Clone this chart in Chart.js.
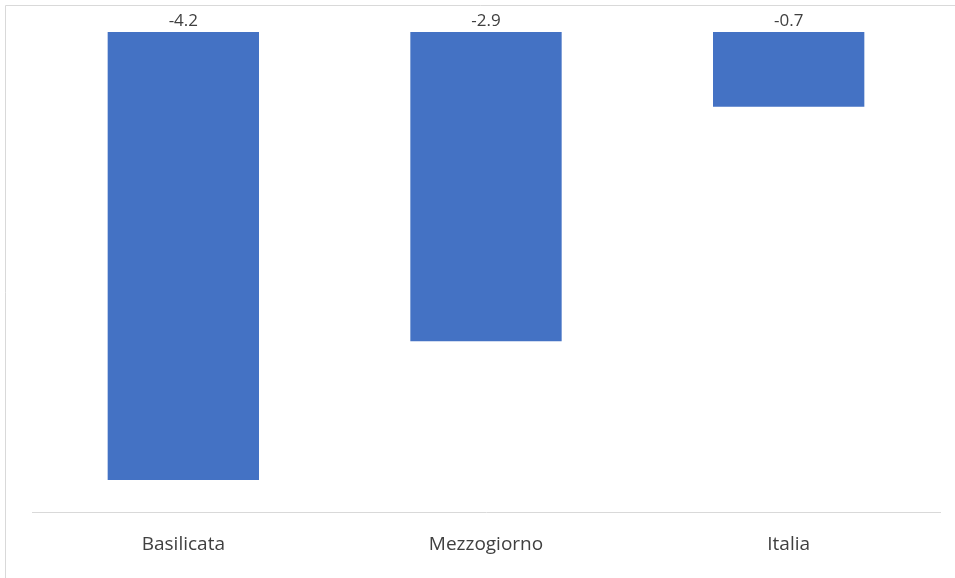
<!DOCTYPE html>
<html>
<head>
<meta charset="utf-8">
<script src="https://cdn.jsdelivr.net/npm/chart.js@4/dist/chart.umd.min.js"></script>
<style>
  html, body { margin: 0; padding: 0; background: #fff; }
  #wrap { position: relative; width: 955px; height: 578px; }
</style>
</head>
<body>
<div id="wrap"><canvas id="barChart"></canvas></div>
<script>
  const regions = ['Basilicata', 'Mezzogiorno', 'Italia'];
  const variation = [-4.2, -2.9, -0.7];

  // thin frame around the whole chart
  const framePlugin = {
    id: 'frame',
    beforeDraw(chart) {
      const { ctx } = chart;
      ctx.save();
      ctx.strokeStyle = '#d9d9d9';
      ctx.lineWidth = 1;
      ctx.beginPath();
      ctx.moveTo(5.5, chart.height + 5);
      ctx.lineTo(5.5, 5.5);
      ctx.lineTo(chart.width + 5, 5.5);
      ctx.stroke();
      ctx.restore();
    }
  };

  // value labels sit just above the zero line of each bar
  const valueLabels = {
    id: 'valueLabels',
    afterDatasetsDraw(chart) {
      const { ctx } = chart;
      const meta = chart.getDatasetMeta(0);
      ctx.save();
      ctx.fillStyle = '#404040';
      ctx.font = '17px "Open Sans", sans-serif';
      ctx.textAlign = 'center';
      ctx.textBaseline = 'middle';
      meta.data.forEach((bar, i) => {
        const v = chart.data.datasets[0].data[i];
        ctx.fillText(v.toFixed(1), bar.x, bar.base - 11);
      });
      ctx.restore();
    }
  };

  const ctx = document.getElementById('barChart').getContext('2d');
  new Chart(ctx, {
    type: 'bar',
    data: {
      labels: regions,
      datasets: [{
        data: variation,
        backgroundColor: '#4472C4',
        borderWidth: 0,
        categoryPercentage: 1,
        barPercentage: 0.5
      }]
    },
    options: {
      responsive: true,
      maintainAspectRatio: false,
      animation: false,
      layout: { padding: { left: 32, right: 15, top: 32, bottom: 0 } },
      plugins: {
        legend: { display: false },
        tooltip: { enabled: false }
      },
      scales: {
        x: {
          grid: { display: false, drawTicks: false },
          border: { display: true, color: '#d9d9d9', width: 1 },
          ticks: {
            color: '#404040',
            font: { family: '"Open Sans", sans-serif', size: 19 },
            padding: 21
          },
          afterFit(scale) { scale.height = 66; }
        },
        y: {
          display: false,
          min: -4.5,
          max: 0
        }
      }
    },
    plugins: [framePlugin, valueLabels]
  });
</script>
</body>
</html>
